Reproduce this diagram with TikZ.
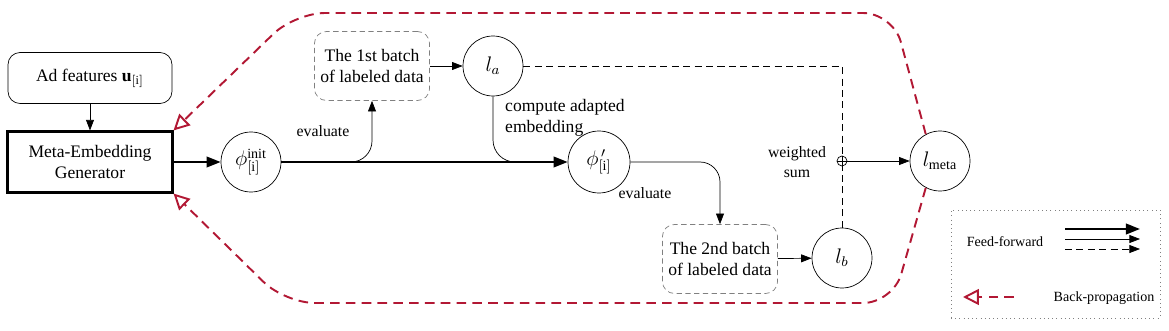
\documentclass[tikz,border=0pt]{standalone}
\usepackage{fontspec}
\setmainfont{Liberation Serif}
\usetikzlibrary{arrows.meta}
\definecolor{bpred}{RGB}{178,24,52}
\begin{document}
\begin{tikzpicture}[
    x=0.02cm, y=-0.02cm,
    box/.style={rectangle, draw, line width=1.2pt, minimum width=3.3cm, minimum height=1.22cm, align=center},
    roundbox/.style={rectangle, draw, rounded corners=0.24cm, minimum width=3.28cm, minimum height=1.02cm},
    batch/.style={rectangle, draw=gray, dash pattern=on 3pt off 2pt, rounded corners=0.24cm, minimum width=2.28cm, minimum height=1.38cm, align=center},
    var/.style={circle, draw, minimum size=1.2cm, inner sep=0pt, font=\large},
    arrow/.style={-{Triangle[length=6pt,width=4.5pt]}},
    thickarrow/.style={-{Triangle[length=8pt,width=6pt]}, line width=1.2pt},
    dashline/.style={dash pattern=on 4pt off 2.5pt},
    backprop/.style={-{Triangle[open,length=9pt,width=9pt]}, bpred, line width=1.1pt, dash pattern=on 5.5pt off 3.5pt}
]
    \useasboundingbox (0,0) rectangle (1169,331);

    \node[roundbox] (ad) at (90,78) {Ad features $\mathbf{u}_{[\mathrm{i}]}$};
    \node[box] (meta) at (90,162) {Meta-Embedding\\Generator};
    \node[var] (phi0) at (251,162) {$\phi^{\mathrm{init}}_{[\mathrm{i}]}$};
    \node[batch] (b1) at (372,66) {The 1st batch\\of labeled data};
    \node[var] (la) at (493,66) {$l_a$};
    \node[var, minimum size=1.24cm] (phi1) at (599,162) {$\phi^{\,\prime}_{[\mathrm{i}]}$};
    \node[batch] (b2) at (720,259) {The 2nd batch\\of labeled data};
    \node[var] (lb) at (842,258) {$l_b$};
    \node[circle, draw, minimum size=0.2cm, inner sep=0pt] (plus) at (842,161) {};
    \node[var] (lmeta) at (940,161) {$l_{\mathrm{meta}}$};

    \node[font=\small] (ev1) at (323,131) {evaluate};
    \node[font=\small] (ev2) at (645,193) {evaluate};
    \node[anchor=west, align=left] (cae) at (499,118) {compute adapted\\embedding};
    \node[font=\small, align=center] (ws) at (797,162) {weighted\\sum};

    \draw[arrow] (ad) -- (meta);
    \draw[thickarrow] (meta) -- (phi0);
    \draw[thickarrow] (phi0) -- (phi1);
    \draw[arrow, rounded corners=0.42cm] (350,162) -| (b1.south);
    \draw[arrow] (b1) -- (la);
    \draw[rounded corners=0.44cm] (la.south) |- (516,162);
    \draw[arrow, rounded corners=0.4cm] (phi1.east) -| (b2.north);
    \draw[arrow] (b2) -- (lb);
    \draw[dashline] (la.east) -| (plus.north);
    \draw[dashline] (lb.north) -- (plus.south);
    \draw (plus.north) -- (plus.south) (plus.west) -- (plus.east);
    \draw[arrow] (plus.east) -- (lmeta);

    % back-propagation loop
    \draw[backprop, rounded corners=0.6cm] (lmeta.118) -- (893,13) -- (295,13) -- (meta.north east);
    \draw[backprop, rounded corners=0.6cm] (lmeta.242) -- (893,303) -- (285,303) -- (meta.south east);

    % legend
    \node[draw=gray, dotted, minimum width=4.18cm, minimum height=2.16cm] (legend) at (1055.5,264) {};
    \node[font=\footnotesize] (ff) at (1005,242) {Feed-forward};
    \node[font=\footnotesize] (bp) at (1104,298) {Back-propagation};
    \coordinate (f1a) at (1065,229); \coordinate (f1b) at (1140,229);
    \coordinate (f2a) at (1065,239); \coordinate (f2b) at (1140,239);
    \coordinate (f3a) at (1065,249); \coordinate (f3b) at (1140,249);
    \coordinate (bpa) at (1014,297); \coordinate (bpb) at (963,297);
    \draw[thickarrow] (f1a) -- (f1b);
    \draw[arrow] (f2a) -- (f2b);
    \draw[arrow, dashline] (f3a) -- (f3b);
    \draw[backprop] (bpa) -- (bpb);
\end{tikzpicture}
\end{document}
